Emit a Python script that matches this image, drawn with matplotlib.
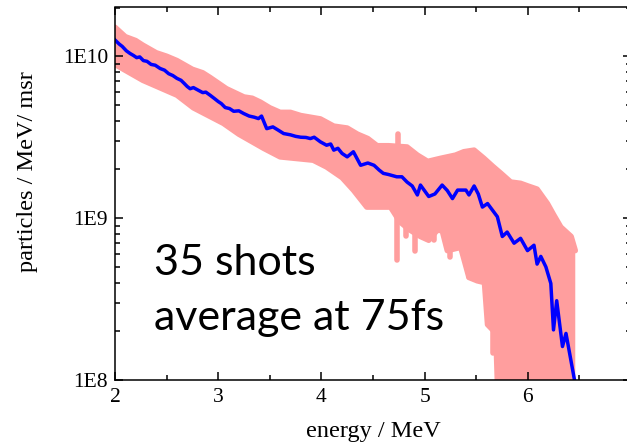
import matplotlib.pyplot as plt
import numpy as np
from matplotlib.ticker import FixedLocator, FuncFormatter, LogLocator, MultipleLocator, NullFormatter

# averaged spectrum (blue line)
mean_energy = [2.0, 2.04, 2.07, 2.11, 2.146, 2.18, 2.21, 2.24, 2.275, 2.31,
               2.35, 2.39, 2.437, 2.48, 2.52, 2.56, 2.6, 2.64, 2.67, 2.7,
               2.728, 2.76, 2.8, 2.85, 2.88, 2.922, 2.96, 3.0, 3.03, 3.068,
               3.11, 3.15, 3.2, 3.246, 3.3, 3.35, 3.39, 3.42, 3.47, 3.53,
               3.58, 3.634, 3.7, 3.75, 3.8, 3.85, 3.893, 3.93, 3.99, 4.05,
               4.09, 4.12, 4.16, 4.2, 4.25, 4.31, 4.38, 4.45, 4.51, 4.56,
               4.6, 4.65, 4.73, 4.78, 4.83, 4.88, 4.93, 4.96, 5.04, 5.1,
               5.17, 5.22, 5.27, 5.32, 5.40, 5.43, 5.48, 5.52, 5.56, 5.61,
               5.705, 5.753, 5.80, 5.867, 5.93, 5.997, 6.06, 6.09, 6.126, 6.175,
               6.223, 6.249, 6.28, 6.336, 6.37, 6.45]
mean_counts = [1.26e10, 1.19e10, 1.15e10, 1.08e10, 1.04e10, 1.01e10, 9.8e9, 9.9e9, 9.4e9, 9.3e9,
               8.9e9, 8.8e9, 8.4e9, 8.2e9, 7.8e9, 7.6e9, 7.3e9, 7.1e9, 6.8e9, 6.5e9,
               6.3e9, 6.4e9, 6.2e9, 5.96e9, 6.0e9, 5.74e9, 5.5e9, 5.25e9, 5.1e9, 4.82e9,
               4.75e9, 4.57e9, 4.6e9, 4.43e9, 4.27e9, 4.2e9, 4.12e9, 4.27e9, 3.57e9, 3.66e9,
               3.5e9, 3.33e9, 3.27e9, 3.2e9, 3.16e9, 3.15e9, 3.10e9, 3.16e9, 2.96e9, 2.82e9,
               2.87e9, 2.63e9, 2.7e9, 2.51e9, 2.39e9, 2.57e9, 2.12e9, 2.19e9, 2.12e9, 1.98e9,
               1.89e9, 1.86e9, 1.80e9, 1.80e9, 1.67e9, 1.58e9, 1.39e9, 1.60e9, 1.36e9, 1.41e9,
               1.60e9, 1.48e9, 1.32e9, 1.49e9, 1.49e9, 1.39e9, 1.58e9, 1.41e9, 1.17e9, 1.23e9,
               1.02e9, 7.7e8, 8.2e8, 7.0e8, 7.5e8, 6.3e8, 6.8e8, 5.2e8, 5.8e8, 5.0e8,
               3.95e8, 2.04e8, 3.09e8, 1.61e8, 1.94e8, 1.02e8]

# shot-to-shot spread (pink band), upper envelope
upper_energy = [2.0, 2.1, 2.2, 2.27, 2.4, 2.5, 2.6, 2.75, 2.85, 2.92,
                3.08, 3.25, 3.33, 3.41, 3.5, 3.6, 3.7, 3.8, 3.99, 4.12,
                4.25, 4.35, 4.45, 4.54, 4.65, 4.83, 4.93, 5.03, 5.155, 5.3,
                5.38, 5.48, 5.575, 5.66, 5.74, 5.835, 5.93, 6.0, 6.09, 6.19,
                6.25, 6.32, 6.42, 6.46]
upper_counts = [1.51e10, 1.32e10, 1.25e10, 1.17e10, 1.05e10, 1.0e10, 9.4e9, 8.3e9, 7.9e9, 7.4e9,
                6.3e9, 5.6e9, 5.5e9, 5.2e9, 4.8e9, 4.5e9, 4.5e9, 4.3e9, 4.1e9, 3.7e9,
                3.6e9, 3.3e9, 3.1e9, 2.8e9, 2.8e9, 2.75e9, 2.45e9, 2.24e9, 2.34e9, 2.45e9,
                2.57e9, 2.63e9, 2.34e9, 2.09e9, 1.89e9, 1.67e9, 1.64e9, 1.58e9, 1.51e9, 1.23e9,
                1.05e9, 8.8e8, 7.7e8, 6.3e8]

# lower envelope
lower_energy = [2.0, 2.27, 2.6, 2.76, 3.05, 3.2, 3.44, 3.6, 3.92, 4.05,
                4.2, 4.31, 4.44, 4.67, 4.76, 4.85, 4.96, 5.04, 5.12, 5.17,
                5.22, 5.35, 5.43, 5.51, 5.58, 5.61, 5.69, 5.72, 6.46]
lower_counts = [8.9e9, 7.1e9, 5.75e9, 4.8e9, 3.85e9, 3.3e9, 2.7e9, 2.39e9, 2.28e9, 2.07e9,
                1.78e9, 1.49e9, 1.17e9, 1.17e9, 9.5e8, 8.5e8, 7.7e8, 7.3e8, 8.4e8, 8.4e8,
                6.3e8, 6.6e8, 4.3e8, 4.1e8, 4.0e8, 2.2e8, 1.95e8, 5e7, 5e7]

# single shots sticking out of the band
spike_energy = [4.74, 4.73, 4.82, 4.91, 5.087, 5.25, 5.43, 5.66, 5.71]
spike_low = [2.0e9, 5.5e8, 7.7e8, 6.3e8, 7.3e8, 5.75e8, 4.3e8, 1.47e8, 1.95e8]
spike_high = [3.3e9, 1.2e9, 1.2e9, 1.2e9, 1.2e9, 1.2e9, 1.0e9, 4.0e8, 4.0e8]

pink = '#ff9e9e'
plt.rcParams['font.family'] = 'Liberation Serif'

fig = plt.figure(figsize=(6.27, 4.44), dpi=100)
ax = fig.add_axes([115 / 627, 64 / 444, 516 / 627, 372.5 / 444])

# band as a polygon: upper edge forward, lower edge back
band_x = list(upper_energy) + list(lower_energy[::-1])
band_y = list(upper_counts) + list(lower_counts[::-1])
ax.fill(band_x, band_y, color=pink, lw=0, zorder=1)
ax.plot(upper_energy, upper_counts, color=pink, lw=4,
        solid_capstyle='round', solid_joinstyle='round', zorder=1)
ax.plot(lower_energy, lower_counts, color=pink, lw=4,
        solid_capstyle='round', solid_joinstyle='round', zorder=1)
ax.vlines(spike_energy, spike_low, spike_high, color=pink, lw=4,
          capstyle='round', zorder=1)

ax.plot(mean_energy, mean_counts, color='#0000ff', lw=2.5, zorder=2)

ax.set_yscale('log')
ax.set_xlim(2, 7)
ax.set_ylim(1e8, 2e10)

ax.xaxis.set_major_locator(MultipleLocator(1))
ax.xaxis.set_minor_locator(MultipleLocator(0.5))
ax.yaxis.set_major_locator(FixedLocator([1e8, 1e9, 1e10]))
ax.yaxis.set_minor_locator(LogLocator(base=10, subs=np.arange(2, 10)))
ax.yaxis.set_minor_formatter(NullFormatter())
ax.yaxis.set_major_formatter(FuncFormatter(lambda v, p: '1E%d' % round(np.log10(v))))

ax.tick_params(which='both', direction='in', top=True, right=True, width=1.1,
               labelsize=15.5, colors='black')
ax.tick_params(which='major', length=6)
ax.tick_params(which='minor', length=3.5)
ax.tick_params(axis='x', pad=6)
ax.tick_params(axis='y', pad=5)
for sp in ax.spines.values():
    sp.set_linewidth(1.1)

ax.set_xlabel('energy / MeV', fontsize=17.5, labelpad=10)
ax.set_ylabel('particles / MeV/ msr', fontsize=17.5)
ax.yaxis.set_label_coords(-0.15, 0.56)

ax.text(154 / 627, 1 - 275 / 444, '35 shots', transform=fig.transFigure,
        family='Lato', fontsize=31, va='baseline', ha='left')
ax.text(154 / 627, 1 - 330 / 444, 'average at 75fs', transform=fig.transFigure,
        family='Lato', fontsize=31, va='baseline', ha='left')

fig.savefig('out.png', dpi=100)
